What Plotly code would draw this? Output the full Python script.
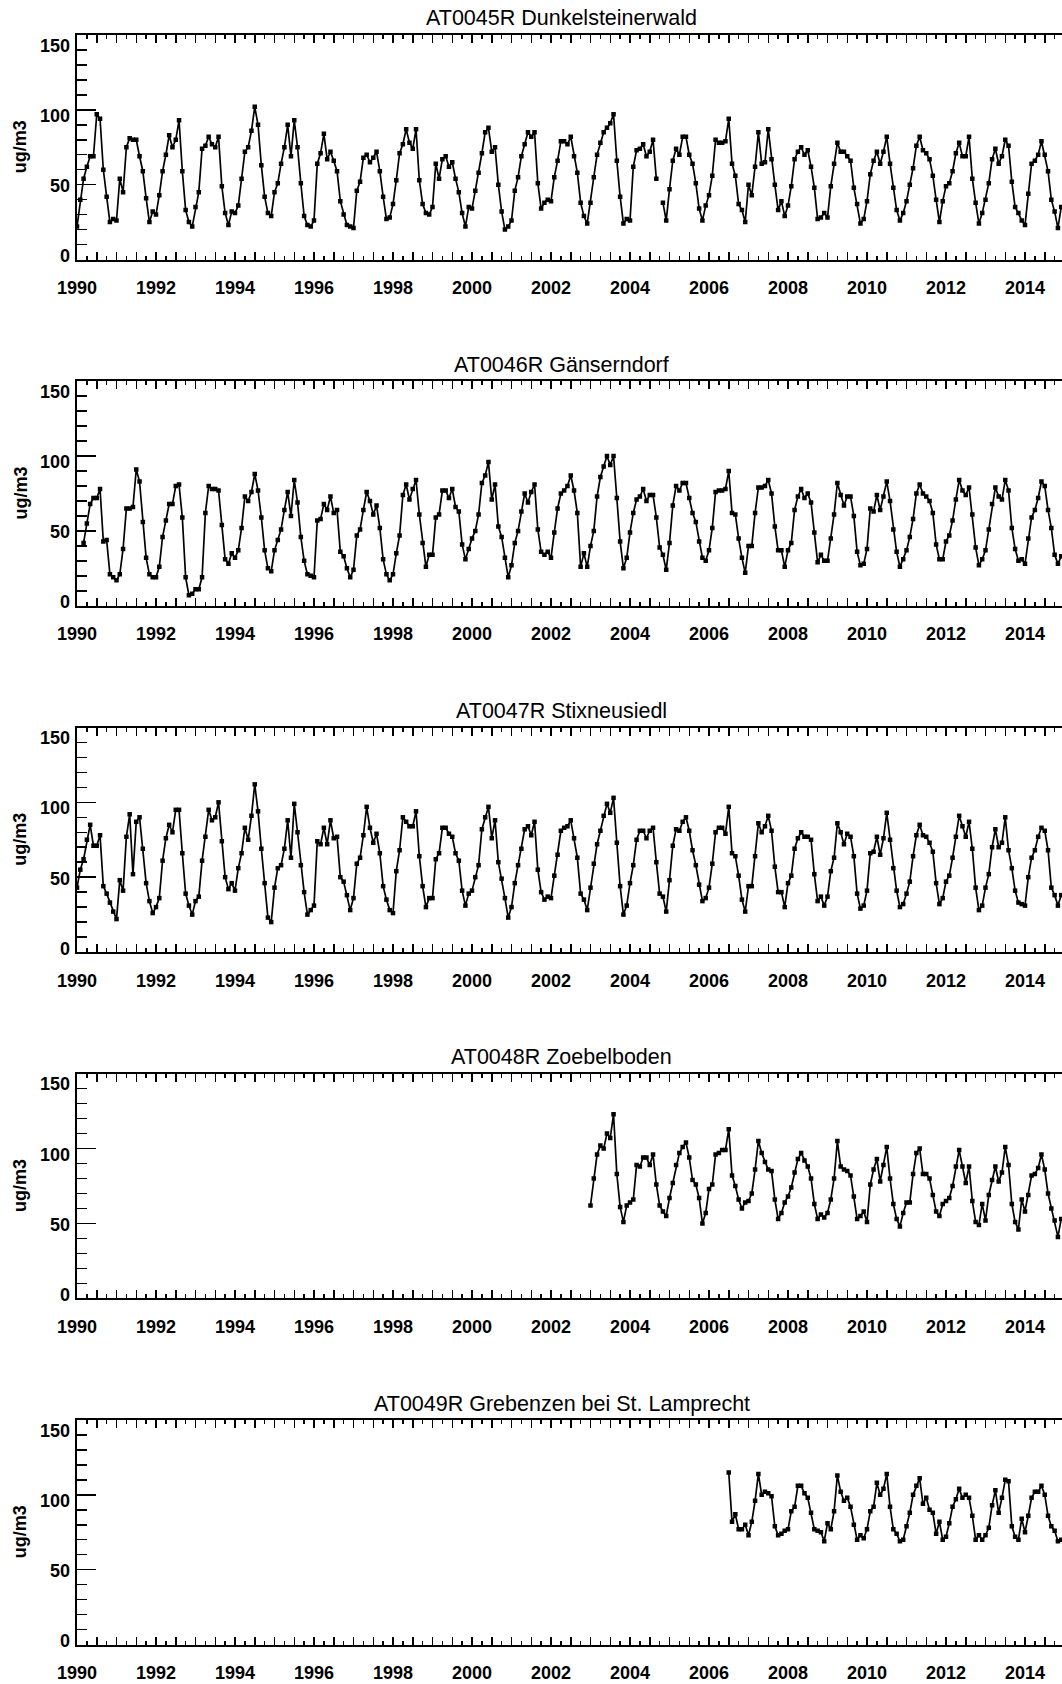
import plotly.graph_objects as go

# ---------------- data (monthly means, ug/m3) ----------------
titles = ["AT0045R Dunkelsteinerwald", "AT0046R Gänserndorf", "AT0047R Stixneusiedl",
          "AT0048R Zoebelboden", "AT0049R Grebenzen bei St. Lamprecht"]

# first month of each series, counted in months from January 1990
start_months = [0, 2, 0, 156, 198]

s_at45 = [
    22, 40, 54, 62, 69, 69, 97, 94, 60, 42, 25, 27,
    26, 54, 45, 75, 81, 80, 80, 69, 59, 41, 25, 32,
    30, 43, 59, 70, 83, 75, 80, 93, 59, 33, 25, 22,
    35, 45, 74, 76, 82, 77, 75, 82, 49, 31, 23, 32,
    31, 36, 54, 72, 75, 86, 102, 90, 63, 42, 31, 29,
    45, 51, 64, 75, 90, 69, 93, 75, 51, 29, 23, 22,
    26, 64, 71, 84, 67, 72, 66, 59, 39, 30, 23, 22,
    21, 46, 52, 68, 70, 65, 68, 72, 59, 42, 27, 28,
    37, 53, 71, 77, 87, 78, 74, 87, 53, 37, 31, 30,
    35, 64, 54, 67, 69, 62, 65, 54, 45, 31, 22, 35,
    34, 46, 58, 71, 85, 88, 72, 75, 50, 32, 20, 22,
    26, 46, 55, 69, 77, 85, 82, 85, 51, 34, 38, 40,
    39, 55, 66, 79, 79, 77, 82, 69, 58, 38, 29, 24,
    38, 55, 70, 78, 85, 88, 91, 97, 66, 42, 24, 27,
    26, 62, 73, 74, 77, 69, 72, 80, 54, None, 38, 26,
    47, 66, 74, 70, 82, 82, 70, 64, 51, 34, 26, 36,
    43, 56, 80, 78, 78, 79, 94, 64, 56, 37, 33, 25,
    50, 43, 62, 85, 64, 65, 87, 67, 50, 33, 39, 29,
    36, 49, 67, 72, 75, 70, 73, 62, 48, 27, 28, 31,
    28, 49, 64, 78, 72, 72, 69, 66, 48, 37, 24, 27,
    39, 57, 66, 72, 64, 72, 82, 64, 48, 33, 26, 31,
    39, 50, 61, 76, 82, 73, 71, 67, 56, 40, 25, 39,
    49, 51, 59, 71, 78, 69, 69, 82, 54, 38, 24, 31,
    40, 51, 67, 74, 64, 69, 80, 76, 52, 35, 31, 26,
    23, 44, 64, 66, 70, 79, 70, 59, 40, 32, 21, 35,
]

s_at46 = [
    42, 55, 68, 72, 72, 78, 43, 44, 21, 19,
    17, 21, 38, 65, 65, 66, 91, 83, 56, 32, 21, 19,
    19, 26, 46, 57, 68, 68, 80, 81, 59, 19, 7, 8,
    11, 11, 19, 62, 80, 78, 78, 77, 54, 31, 28, 35,
    32, 37, 52, 73, 70, 76, 88, 77, 59, 37, 25, 23,
    37, 44, 51, 64, 76, 60, 84, 69, 46, 30, 21, 20,
    19, 57, 58, 68, 64, 73, 62, 64, 36, 33, 25, 19,
    24, 47, 51, 64, 76, 70, 61, 67, 52, 31, 21, 17,
    21, 35, 47, 74, 81, 71, 78, 84, 61, 42, 26, 34,
    34, 59, 61, 77, 77, 72, 78, 66, 63, 41, 31, 38,
    45, 50, 61, 82, 87, 96, 71, 81, 53, 46, 32, 19,
    27, 42, 50, 63, 75, 69, 76, 81, 51, 36, 34, 36,
    32, 49, 65, 75, 77, 80, 87, 77, 62, 26, 35, 26,
    40, 50, 73, 86, 93, 100, 94, 100, 72, 43, 25, 32,
    49, 62, 71, 73, 78, 70, 74, 74, 59, 39, 34, 24,
    42, 67, 80, 77, 82, 82, 72, 62, 56, 43, 32, 30,
    37, 52, 76, 77, 77, 78, 90, 62, 61, 45, 32, 22,
    40, 40, 62, 79, 79, 80, 84, 75, 53, 37, 37, 26,
    37, 42, 64, 73, 78, 72, 75, 69, 49, 29, 34, 30,
    30, 45, 61, 82, 74, 67, 73, 73, 60, 36, 27, 28,
    38, 65, 63, 74, 64, 73, 83, 70, 51, 36, 26, 31,
    37, 46, 58, 75, 81, 75, 73, 70, 62, 41, 31, 31,
    43, 47, 57, 71, 84, 77, 74, 79, 61, 39, 27, 31,
    37, 51, 68, 79, 73, 71, 84, 77, 52, 38, 30, 31,
    28, 45, 59, 64, 72, 83, 80, 64, 52, 34, 28, 33,
]

s_at47 = [
    43, 55, 62, 75, 85, 71, 71, 78, 44, 39, 33, 27,
    22, 48, 41, 77, 92, 52, 87, 90, 69, 46, 34, 26,
    30, 36, 61, 76, 85, 80, 95, 95, 66, 39, 31, 25,
    34, 37, 61, 77, 95, 88, 90, 100, 74, 50, 42, 46,
    41, 56, 66, 83, 75, 91, 112, 94, 69, 46, 23, 20,
    43, 56, 58, 69, 88, 63, 99, 80, 58, 40, 25, 28,
    31, 74, 72, 83, 72, 88, 76, 77, 50, 47, 38, 28,
    36, 59, 63, 78, 97, 83, 73, 79, 66, 44, 35, 28,
    26, 54, 68, 90, 87, 84, 84, 94, 64, 44, 30, 36,
    36, 62, 66, 83, 83, 79, 77, 66, 61, 41, 31, 39,
    41, 50, 58, 82, 90, 97, 76, 88, 60, 49, 36, 23,
    30, 46, 58, 69, 82, 84, 78, 87, 55, 40, 35, 37,
    36, 51, 65, 81, 83, 84, 88, 76, 63, 39, 35, 28,
    43, 59, 72, 81, 91, 99, 93, 103, 73, 44, 25, 31,
    46, 58, 75, 81, 81, 76, 81, 83, 60, 39, 37, 27,
    48, 71, 82, 81, 87, 90, 81, 68, 58, 45, 34, 36,
    43, 59, 80, 83, 83, 79, 97, 66, 64, 51, 35, 27,
    44, 44, 64, 86, 80, 84, 91, 81, 57, 40, 40, 30,
    46, 51, 69, 76, 80, 77, 77, 75, 52, 34, 37, 31,
    37, 54, 63, 86, 80, 72, 79, 77, 64, 39, 29, 31,
    41, 66, 67, 77, 65, 76, 93, 75, 56, 41, 30, 32,
    39, 47, 64, 78, 85, 78, 77, 73, 67, 46, 32, 36,
    47, 51, 63, 77, 91, 84, 77, 87, 69, 43, 28, 31,
    43, 52, 70, 82, 70, 73, 90, 68, 56, 41, 33, 32,
    31, 50, 63, 68, 77, 83, 81, 68, 43, 38, 31, 38,
]

s_at48 = [
    62, 80, 96, 102, 100, 110, 107, 123, 83, 61, 51, 62,
    64, 66, 89, 88, 94, 94, 89, 96, 76, 62, 58, 55,
    67, 77, 89, 97, 101, 104, 94, 79, 76, 67, 50, 57,
    73, 76, 96, 97, 99, 99, 113, 82, 75, 66, 60, 64,
    65, 70, 86, 105, 97, 91, 86, 85, 66, 53, 57, 64,
    68, 74, 84, 93, 97, 92, 88, 80, 63, 53, 56, 54,
    57, 66, 80, 105, 88, 86, 85, 82, 68, 53, 55, 58,
    51, 76, 86, 93, 78, 89, 101, 80, 63, 53, 48, 57,
    64, 64, 83, 97, 100, 83, 83, 80, 69, 58, 55, 63,
    65, 67, 75, 88, 99, 88, 77, 88, 65, 51, 49, 63,
    52, 69, 79, 88, 78, 84, 101, 89, 63, 51, 46, 66,
    58, 69, 82, 83, 87, 96, 86, 70, 60, 52, 41, 53,
]

s_at49 = [
    115, 82, 87, 77, 77, 80,
    73, 82, 96, 114, 100, 102, 101, 99, 79, 73, 74, 76,
    77, 89, 92, 106, 106, 101, 98, 88, 77, 76, 75, 69,
    81, 77, 89, 113, 102, 96, 98, 92, 80, 70, 73, 71,
    77, 89, 92, 108, 100, 104, 114, 92, 77, 74, 69, 70,
    79, 88, 100, 106, 111, 94, 98, 90, 88, 74, 82, 70,
    72, 81, 92, 97, 104, 98, 100, 98, 86, 70, 73, 70,
    73, 78, 93, 103, 88, 98, 110, 109, 79, 72, 70, 84,
    75, 86, 98, 102, 102, 106, 100, 86, 79, 76, 69, 70,
]

series = [s_at45, s_at46, s_at47, s_at48, s_at49]

x_tick_years = [1990 + 0.5 * i for i in range(50)]
x_tick_text = [str(int(v)) if (v == int(v) and int(v) % 2 == 0) else "" for v in x_tick_years]
x_minor_years = [1990.25 + 0.5 * i for i in range(50)]
y_tick_vals = [0, 50, 100, 150]
y_tick_text = ["0", "50", "100", "150"]
y_unit = "ug/m3"

# ---------------- layout geometry ----------------
W, H = 1062, 1684
L = 77
PX_PER_YEAR = 39.5
x_max = 1990 + (W - L) / PX_PER_YEAR
panel_tops = [35 + 346.25 * i for i in range(5)]
panel_h = 224.5

FONT = "Liberation Sans, Arial, Helvetica, sans-serif"

fig = go.Figure()
layout = dict(
    width=W, height=H, showlegend=False,
    paper_bgcolor="white", plot_bgcolor="white",
    margin=dict(l=L, r=0, t=0, b=0, pad=0),
    font=dict(family=FONT, color="black"),
)
annotations = []

for i in range(5):
    k = i + 1
    sfx = "" if k == 1 else str(k)
    vals = series[i]
    xs = [1990 + (start_months[i] + j) / 12.0 for j in range(len(vals))]
    fig.add_trace(go.Scatter(
        x=xs, y=vals, mode="lines+markers",
        line=dict(color="black", width=1.7),
        marker=dict(symbol="square", size=4.5, color="black"),
        connectgaps=False,
        xaxis="x" + sfx, yaxis="y" + sfx, hoverinfo="x+y",
    ))
    top = panel_tops[i]
    y0 = 1 - (top + panel_h) / H
    y1 = 1 - top / H
    layout["xaxis" + sfx] = dict(
        domain=[0, 1], anchor="y" + sfx, range=[1990, x_max],
        showline=True, linewidth=2, linecolor="black", mirror="ticks",
        ticks="inside", tickmode="array", tickvals=x_tick_years, ticktext=x_tick_text,
        ticklen=8, tickwidth=1.5, tickcolor="black",
        minor=dict(tickmode="array", tickvals=x_minor_years, ticks="inside",
                   ticklen=4, tickwidth=1.5, tickcolor="black", showgrid=False),
        tickfont=dict(family=FONT, size=18, color="black", weight="bold"),
        ticklabelstandoff=11,
        showgrid=False, zeroline=False, fixedrange=True,
    )
    layout["yaxis" + sfx] = dict(
        domain=[y0, y1], anchor="x" + sfx, range=[0, 150],
        showline=True, linewidth=2, linecolor="black",
        ticks="inside", tickmode="array", tickvals=y_tick_vals,
        ticklen=19, tickwidth=1.5, tickcolor="black",
        minor=dict(tickmode="linear", tick0=0, dtick=10, ticks="inside",
                   ticklen=10, tickwidth=1.5, tickcolor="black", showgrid=False),
        showticklabels=False, showgrid=False, zeroline=False, fixedrange=True,
    )
    layout["yaxis" + str(k + 5)] = dict(
        overlaying="y" + sfx, anchor="x" + sfx, side="right", range=[0, 150],
        showline=False, ticks="inside", tickmode="array", tickvals=y_tick_vals,
        ticklen=16, tickwidth=1.5, tickcolor="black",
        minor=dict(tickmode="linear", tick0=0, dtick=10, ticks="inside",
                   ticklen=7, tickwidth=1.5, tickcolor="black", showgrid=False),
        showticklabels=False, showgrid=False, zeroline=False, fixedrange=True,
    )
    # panel title
    annotations.append(dict(
        text=titles[i], xref="paper", yref="paper",
        x=(561.5 - L) / (W - L), y=1 - (top - 16.5) / H,
        xanchor="center", yanchor="middle", showarrow=False,
        font=dict(family=FONT, size=21.5, color="black"),
    ))
    # y unit label
    annotations.append(dict(
        text=y_unit, xref="paper", yref="paper",
        x=(20 - L) / (W - L), y=1 - (top + panel_h / 2) / H,
        xanchor="center", yanchor="middle", textangle=-90, showarrow=False,
        font=dict(family=FONT, size=18, color="black", weight="bold"),
    ))
    # y tick labels (placed as in the original, slightly off the ticks)
    for v, t in zip(y_tick_vals, y_tick_text):
        ypx = 3.3 + v * (panel_h / 160.0)
        annotations.append(dict(
            text=t, xref="paper", yref="y" + sfx,
            x=(72 - L) / (W - L), y=ypx / (panel_h / 150.0),
            xanchor="right", yanchor="middle", showarrow=False,
            font=dict(family=FONT, size=18, color="black", weight="bold"),
        ))

layout["annotations"] = annotations
fig.update_layout(**layout)
fig.write_html(
    "out.html",
    config={"displayModeBar": False, "staticPlot": True},
    post_script="document.body.style.margin='0';document.body.style.padding='0';"
                "document.body.style.overflow='hidden';",
)
